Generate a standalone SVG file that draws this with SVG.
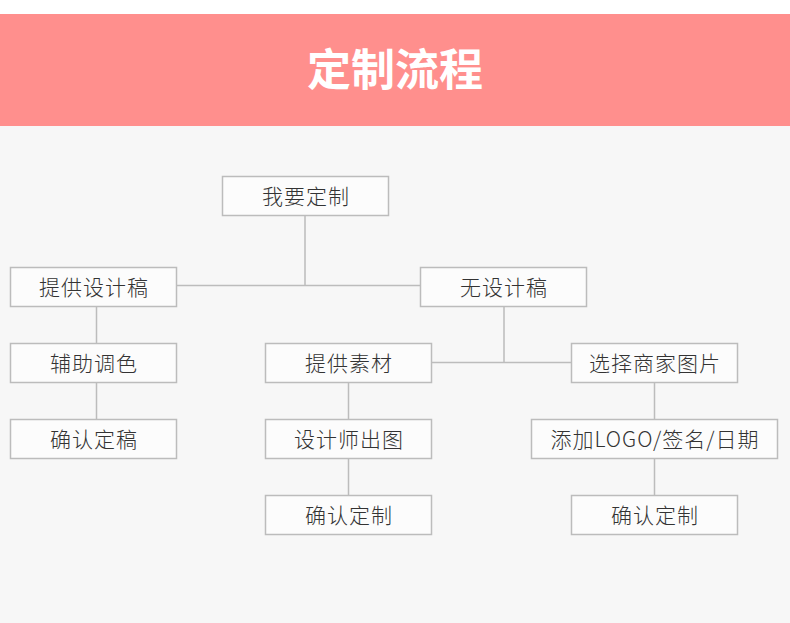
<svg xmlns="http://www.w3.org/2000/svg" width="790" height="623" viewBox="0 0 790 623">
<style>
.bx{fill:#fcfcfc;stroke:#bcbcbc;stroke-width:1.5}
.t{font-family:"Noto Sans CJK SC","Noto Sans",sans-serif;font-size:21px;fill:#333;text-anchor:middle;letter-spacing:1px;font-weight:300}
.ln{stroke:#bcbcbc;stroke-width:1.5;fill:none}
</style>
<rect x="0" y="0" width="790" height="623" fill="#f7f7f7"/>
<rect x="0" y="0" width="790" height="14" fill="#ffffff"/>
<rect x="0" y="14" width="790" height="112" fill="#ff8f8d"/>
<text x="395" y="86" font-family="'Noto Sans CJK SC','Noto Sans',sans-serif" font-size="44" font-weight="bold" fill="#ffffff" text-anchor="middle">定制流程</text>
<g id="connectors">
<path class="ln" d="M305 215.5V285.5M176.5 285.5H420.5"/>
<path class="ln" d="M96.5 306.5V343.5M96.5 382.5V419.5"/>
<path class="ln" d="M504 306.5V362.5M431.5 362.5H571.5"/>
<path class="ln" d="M348.5 382.5V419.5M348.5 458.5V495.5"/>
<path class="ln" d="M654.5 382.5V419.5M654.5 458.5V495.5"/>
</g>
<g id="n1"><rect class="bx" x="222.5" y="176.5" width="166" height="39"/><text class="t" x="306" y="204">我要定制</text></g>
<g id="n2"><rect class="bx" x="10.5" y="267.5" width="166" height="39"/><text class="t" x="94" y="295">提供设计稿</text></g>
<g id="n3"><rect class="bx" x="420.5" y="267.5" width="166" height="39"/><text class="t" x="504" y="295">无设计稿</text></g>
<g id="n4"><rect class="bx" x="10.5" y="343.5" width="166" height="39"/><text class="t" x="94" y="371">辅助调色</text></g>
<g id="n5"><rect class="bx" x="10.5" y="419.5" width="166" height="39"/><text class="t" x="94" y="447">确认定稿</text></g>
<g id="n6"><rect class="bx" x="265.5" y="343.5" width="166" height="39"/><text class="t" x="349" y="371">提供素材</text></g>
<g id="n7"><rect class="bx" x="265.5" y="419.5" width="166" height="39"/><text class="t" x="349" y="447">设计师出图</text></g>
<g id="n8"><rect class="bx" x="265.5" y="495.5" width="166" height="39"/><text class="t" x="349" y="523">确认定制</text></g>
<g id="n9"><rect class="bx" x="571.5" y="343.5" width="166" height="39"/><text class="t" x="655" y="371">选择商家图片</text></g>
<g id="n10"><rect class="bx" x="531.5" y="419.5" width="246" height="39"/><text class="t" x="655" y="447">添加LOGO/签名/日期</text></g>
<g id="n11"><rect class="bx" x="571.5" y="495.5" width="166" height="39"/><text class="t" x="655" y="523">确认定制</text></g>
</svg>
